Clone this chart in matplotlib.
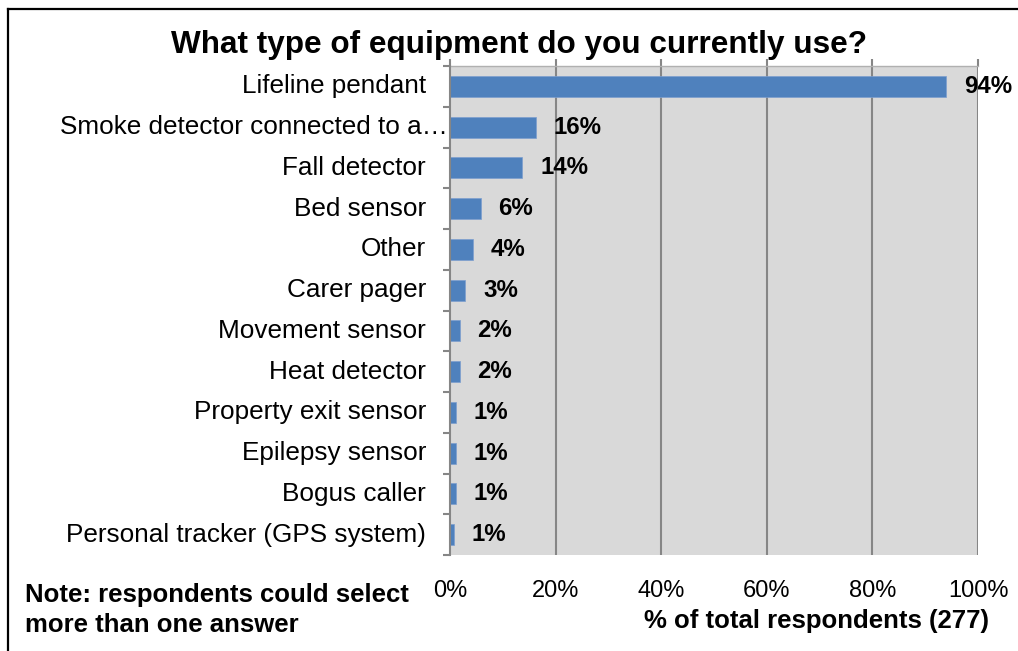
import matplotlib
matplotlib.use("Agg")
import matplotlib.pyplot as plt
from matplotlib.lines import Line2D
from matplotlib.ticker import FixedLocator

plt.rcParams['font.family'] = ['Liberation Sans', 'DejaVu Sans']

# Equipment types and share of respondents (%), top to bottom
categories = [
    "Lifeline pendant",
    "Smoke detector connected to a\u2026",
    "Fall detector",
    "Bed sensor",
    "Other",
    "Carer pager",
    "Movement sensor",
    "Heat detector",
    "Property exit sensor",
    "Epilepsy sensor",
    "Bogus caller",
    "Personal tracker (GPS system)",
]
percent = [93.9, 16.2, 13.7, 5.8, 4.3, 2.9, 1.8, 1.8, 1.1, 1.1, 1.1, 0.7]
x_ticks = [0, 20, 40, 60, 80, 100]
x_tick_labels = ["0%", "20%", "40%", "60%", "80%", "100%"]

title = "What type of equipment do you currently use?"
x_title = "% of total respondents (277)"
note_lines = ["Note: respondents could select", "more than one answer"]

W, H = 1018, 651
fig = plt.figure(figsize=(W / 100, H / 100), dpi=100)
fig.patch.set_facecolor("white")

ax = fig.add_axes([450 / W, 1 - 555 / H, 528 / W, 489 / H])
ax.set_facecolor("#d9d9d9")

bar_color = "#4f81bd"
grid_color = "#868686"
ypos = list(range(len(categories)))
ax.barh(ypos, percent, height=0.52, color=bar_color, edgecolor="#7d9fcf",
        linewidth=0.5, zorder=3)

ax.set_xlim(0, 100)
ax.set_ylim(len(categories) - 0.5, -0.5)

# vertical gridlines
for xv in x_ticks[1:]:
    ax.axvline(xv, color=grid_color, lw=1.5, zorder=1)

# spines
for side in ("bottom", "right"):
    ax.spines[side].set_visible(False)
ax.spines["left"].set_color(grid_color)
ax.spines["left"].set_linewidth(1.5)
ax.spines["left"].set_zorder(4)
ax.spines["top"].set_color("#b0b0b0")
ax.spines["top"].set_linewidth(1.0)

# x axis: tick marks on top, labels at the bottom
ax.set_xticks(x_ticks)
ax.set_xticklabels(x_tick_labels, fontsize=17)
ax.tick_params(axis="x", top=True, bottom=False, labelbottom=True,
               labeltop=False, direction="out", length=5, width=1.5,
               color=grid_color, pad=13)

# y axis: marks between categories, labels drawn as text
ax.set_yticks([])
ax.yaxis.set_minor_locator(FixedLocator([i - 0.5 for i in range(len(categories) + 1)]))
ax.tick_params(axis="y", which="minor", left=True, direction="out",
               length=5, width=1.5, color=grid_color)
ax.tick_params(axis="y", which="major", left=False, labelleft=False)

ytrans = ax.get_yaxis_transform()
for i, name in enumerate(categories):
    off = -24 if not name.endswith("\u2026") else -2
    ax.annotate(name, xy=(0, i), xycoords=ytrans, xytext=(off, 0),
                textcoords="offset pixels", ha="right", va="center",
                fontsize=18.8, color="black", annotation_clip=False)

# value labels
for i, v in enumerate(percent):
    ax.annotate(f"{v:.0f}%", xy=(v, i), xytext=(18, 0),
                textcoords="offset pixels", ha="left", va="center",
                fontsize=17.3, fontweight="bold", color="black", zorder=5)

# titles and note
fig.text(519 / W, 1 - 53 / H, title, ha="center", va="baseline",
         fontsize=22.7, fontweight="bold")
fig.text(817 / W, 1 - 628 / H, x_title, ha="center", va="baseline",
         fontsize=18.5, fontweight="bold")
fig.text(25 / W, 1 - 602 / H, note_lines[0], ha="left", va="baseline",
         fontsize=18.5, fontweight="bold")
fig.text(25 / W, 1 - 632 / H, note_lines[1], ha="left", va="baseline",
         fontsize=18.5, fontweight="bold")

# outer frame (left and top edges)
fig.add_artist(Line2D([8 / W, 8 / W], [0, 1 - 9 / H], color="black", lw=1.6,
                      transform=fig.transFigure))
fig.add_artist(Line2D([8 / W, 1], [1 - 9 / H, 1 - 9 / H], color="black", lw=1.6,
                      transform=fig.transFigure))

fig.savefig("out.png", dpi=100)
